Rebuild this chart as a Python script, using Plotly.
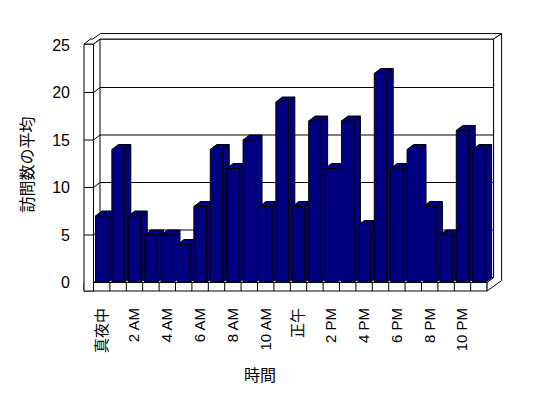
import plotly.graph_objects as go

# ---------------- data ----------------
HOURS = ["真夜中", "1 AM", "2 AM", "3 AM", "4 AM", "5 AM", "6 AM", "7 AM",
         "8 AM", "9 AM", "10 AM", "11 AM", "正午", "1 PM", "2 PM", "3 PM",
         "4 PM", "5 PM", "6 PM", "7 PM", "8 PM", "9 PM", "10 PM", "11 PM"]
VISITS = [7, 14, 7, 5, 5, 4, 8, 14, 12, 15, 8, 19,
          8, 17, 12, 17, 6, 22, 12, 14, 8, 5, 16, 14]
Y_TICKS = [0, 5, 10, 15, 20, 25]
X_TICK_HOURS = HOURS[::2]
Y_TITLE = "訪問数の平均"
X_TITLE = "時間"

# ---------------- geometry / style ----------------
W, H = 548, 398
PX_CAT = 16.4      # pixels per category
PX_VAL = 9.5       # pixels per value unit
X0_PX = 101.7      # pixel x of first category centre
Y0_PX = 282.5      # pixel y of value 0 (front plane)
BOX_L, BOX_R, BOX_T, BOX_B = 78, 512, 28, 298

XR_RANGE = [(BOX_L - X0_PX) / PX_CAT, (BOX_R - X0_PX) / PX_CAT]
YR_RANGE = [(Y0_PX - BOX_B) / PX_VAL, (Y0_PX - BOX_T) / PX_VAL]

DEPTH = {0: (0.0, 0.0), 1: (6.5 / PX_CAT, 5.0 / PX_VAL), 2: (14.5 / PX_CAT, 10.5 / PX_VAL)}

N = len(VISITS)
XLO = (84 - X0_PX) / PX_CAT     # outer left of left wall
XLI = -0.5                       # inner face of left wall
XBL = -0.95                      # left end of back wall
XR = N - 0.5                     # right end
TOP = Y_TICKS[-1] + 0.1
FB = (Y0_PX - 291) / PX_VAL      # floor bottom
HALF_W = 0.38

NAVY = "#000080"
FONT = "Liberation Sans, Arial, Noto Sans CJK JP, sans-serif"


def pt(x, v, d):
    dx, dy = DEPTH[d]
    return (x + dx, v + dy)


def paper_x(px):
    return (px - BOX_L) / (BOX_R - BOX_L)


def paper_y(py):
    return (BOX_B - py) / (BOX_B - BOX_T)


shapes = []


def poly(points, fill="white"):
    p = "M " + " L ".join(f"{x:.4f},{y:.4f}" for x, y in points) + " Z"
    shapes.append(dict(type="path", path=p, xref="x", yref="y", fillcolor=fill,
                       line=dict(color="black", width=1), layer="below"))


def seg(a, b):
    shapes.append(dict(type="line", x0=a[0], y0=a[1], x1=b[0], y1=b[1],
                       xref="x", yref="y", line=dict(color="black", width=1),
                       layer="below"))


# back wall front face + grid
poly([pt(XBL, 0, 1), pt(XR, 0, 1), pt(XR, TOP, 1), pt(XBL, TOP, 1)])
for v in Y_TICKS[1:-1]:
    seg(pt(XLI, v, 1), pt(XR, v, 1))
# floor
poly([pt(XLO, FB, 0), pt(XR, FB, 0), pt(XR, 0, 0), pt(XLO, 0, 0)])
poly([pt(XLO, 0, 0), pt(XR, 0, 0), pt(XR, 0, 1), pt(XLO, 0, 1)])
for k in range(N - 1):
    seg(pt(k + 0.5, FB, 0), pt(k + 0.5, 0, 0))
# left wall
poly([pt(XLO, FB, 0), pt(XLI, FB, 0), pt(XLI, TOP, 0), pt(XLO, TOP, 0)])
poly([pt(XLI, 0, 0), pt(XLI, TOP, 0), pt(XLI, TOP, 1), pt(XLI, 0, 1)])
for v in Y_TICKS[1:-1]:
    seg(pt(XLO, v, 0), pt(XLI, v, 0))
    seg(pt(XLI, v, 0), pt(XLI, v, 1))
# merged top of walls
poly([pt(XLO, TOP, 0), pt(XLO, TOP, 1), pt(XBL, TOP, 1), pt(XBL, TOP, 2),
      pt(XR, TOP, 2), pt(XR, TOP, 1), pt(XLI, TOP, 1), pt(XLI, TOP, 0)])
# merged right side
poly([pt(XR, FB, 0), pt(XR, 0, 0), pt(XR, 0, 1), pt(XR, TOP, 1),
      pt(XR, TOP, 2), pt(XR, FB, 2)])

fig = go.Figure()

# tops and sides of bars (computed from the data)
for i, v in enumerate(VISITS):
    a = pt(i - HALF_W, v, 0)
    b = pt(i - HALF_W, v, 1)
    c = pt(i + HALF_W, v, 1)
    d = pt(i + HALF_W, 0, 1)
    e = pt(i + HALF_W, 0, 0)
    f = pt(i + HALF_W, v, 0)
    xs = [a[0], b[0], c[0], d[0], e[0], f[0], a[0], None, f[0], c[0]]
    ys = [a[1], b[1], c[1], d[1], e[1], f[1], a[1], None, f[1], c[1]]
    fig.add_trace(go.Scatter(x=xs, y=ys, mode="lines", fill="toself",
                             fillcolor=NAVY, line=dict(color="black", width=1),
                             hoverinfo="skip", showlegend=False))

# front faces of bars
fig.add_trace(go.Bar(x=HOURS, y=VISITS, xaxis="x2", yaxis="y2", width=2 * HALF_W,
                     marker=dict(color=NAVY, line=dict(color="black", width=1)),
                     showlegend=False, name="訪問数の平均"))

fig.update_layout(
    width=W, height=H,
    margin=dict(l=BOX_L, r=W - BOX_R, t=BOX_T, b=H - BOX_B),
    paper_bgcolor="white", plot_bgcolor="rgba(0,0,0,0)",
    font=dict(family=FONT, size=16, color="black"),
    shapes=shapes,
    xaxis=dict(range=XR_RANGE, tickvals=list(range(0, N, 2)), ticktext=X_TICK_HOURS,
               tickangle=-90, showgrid=False, zeroline=False, showline=False,
               ticks="", ticklabelstandoff=6, tickfont=dict(size=15, family=FONT)),
    yaxis=dict(range=YR_RANGE, tickvals=Y_TICKS, showgrid=False, zeroline=False,
               showline=False, ticks="", ticklabelstandoff=7,
               tickfont=dict(size=16, family=FONT)),
    xaxis2=dict(range=XR_RANGE, overlaying="x", anchor="y2", visible=False,
                type="category"),
    yaxis2=dict(range=YR_RANGE, overlaying="y", anchor="x2", visible=False),
    annotations=[
        dict(text=Y_TITLE, x=paper_x(26.5), y=paper_y(165),
             xref="paper", yref="paper", textangle=-90, showarrow=False,
             xanchor="center", yanchor="middle", font=dict(size=16, family=FONT)),
        dict(text=X_TITLE, x=paper_x(260), y=paper_y(375),
             xref="paper", yref="paper", showarrow=False, xanchor="center",
             yanchor="middle", font=dict(size=16, family=FONT)),
    ],
)

fig.write_html("out.html")
